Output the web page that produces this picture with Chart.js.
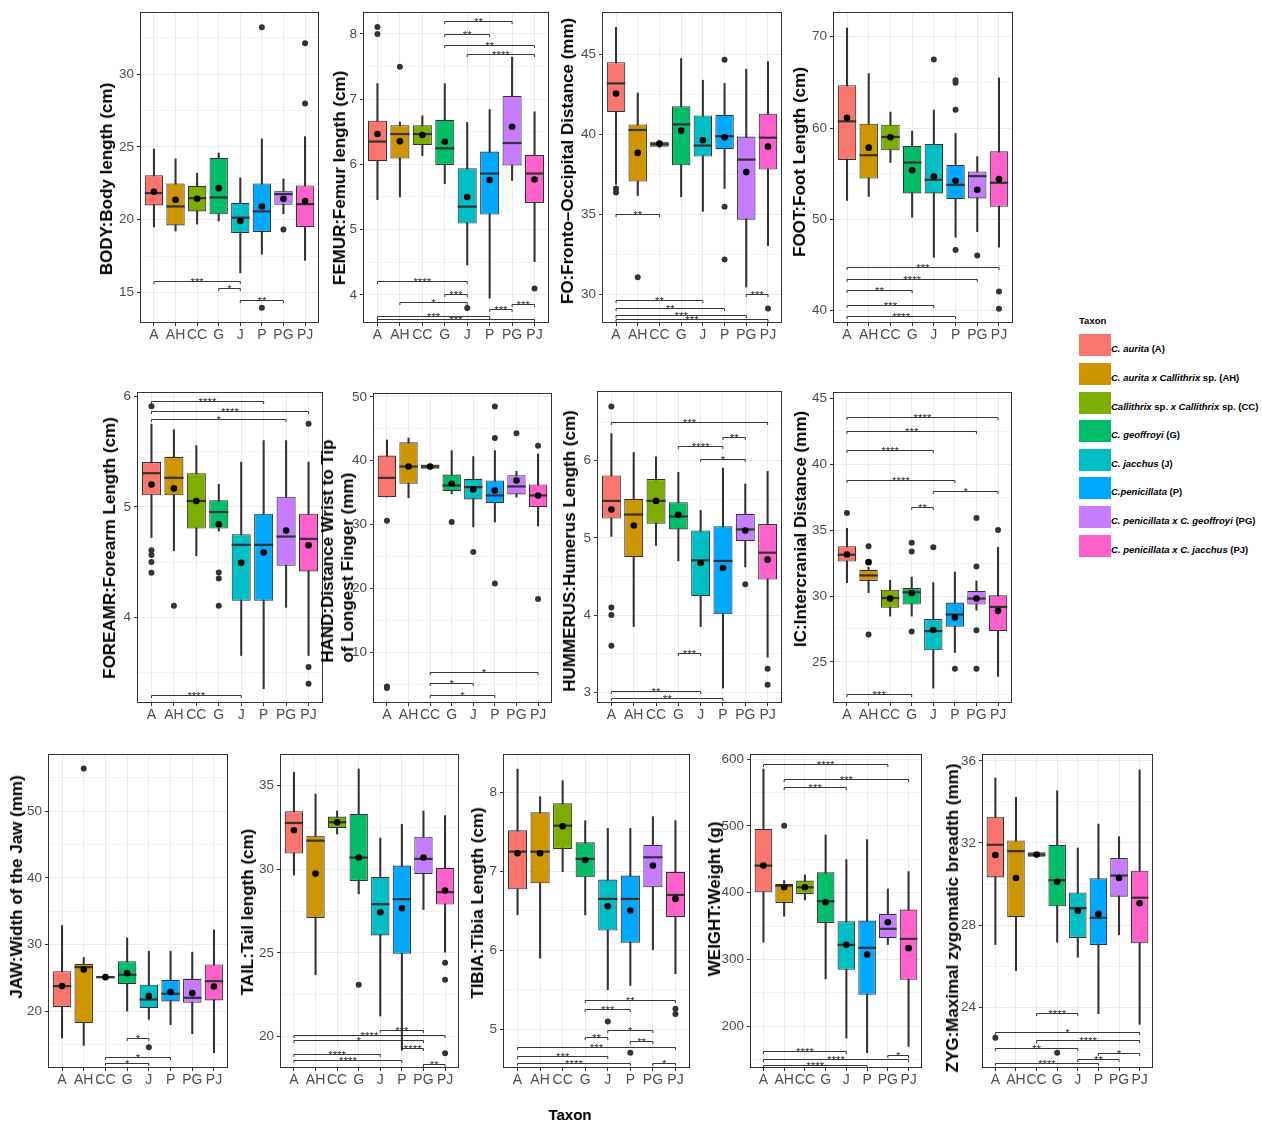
<!DOCTYPE html>
<html><head><meta charset="utf-8">
<script src="https://cdn.jsdelivr.net/npm/chart.js@4.4.1/dist/chart.umd.min.js"></script>
<style>
body{margin:0;background:#fff;width:1262px;height:1123px;position:relative;overflow:hidden;font-family:'Liberation Sans',Arial,Helvetica,sans-serif}
canvas{position:absolute}
.yt{position:absolute;transform:translate(-50%,-50%) rotate(-90deg);font-weight:bold;font-size:17px;white-space:nowrap;color:#000;line-height:20px;text-align:left}
.sw{position:absolute;width:32px;height:22px}
.lb{position:absolute;font-size:9.5px;font-weight:bold;color:#000;white-space:nowrap;transform:translateY(-50%)}
</style></head><body>
<script>
const categories = ['A','AH','CC','G','J','P','PG','PJ'];
const taxonColors = ['#F8766D','#CD9600','#7CAE00','#00BE67','#00BFC4','#00A9FF','#C77CFF','#FF61CC'];
const legendLabels = ['<i>C. aurita</i> (A)','<i>C. aurita x Callithrix</i> sp. (AH)','<i>Callithrix</i> sp. <i>x Callithrix</i> sp. (CC)','<i>C. geoffroyi</i> (G)','<i>C. jacchus</i> (J)','<i>C.penicillata</i> (P)','<i>C. penicillata x C. geoffroyi</i> (PG)','<i>C. penicillata x C. jacchus</i> (PJ)'];

// stats per category: [whisker low, Q1, median, Q3, whisker high]
const bodyStats = [[19.5,20.98,21.83,23.06,24.86],[19.22,19.61,20.91,22.49,24.18],[19.7,20.57,21.48,22.33,23.2],[19.91,20.37,21.53,24.25,24.59],[16.35,19.09,20.14,21.16,22.88],[17.63,19.16,20.57,22.49,25.55],[20.41,21.03,21.76,21.99,22.81],[17.21,19.5,21.07,22.35,25.71]];
const bodyMeans = [21.92,21.37,21.44,22.17,19.91,20.91,21.44,21.28];
const bodyOutliers = [[5,33.22],[5,13.95],[6,19.32],[7,32.12],[7,27.99]];
const bodySignif = [[0,4,15.8,'***'],[3,4,15.32,'*'],[4,6,14.47,'**']];
const bodyTicks = [15,20,25,30];
const bodyRange = [12.97,34.2];

const femurStats = [[5.46,6.05,6.35,6.67,7.24],[5.5,6.09,6.465,6.6,6.65],[6.135,6.297,6.465,6.602,6.745],[5.703,5.992,6.246,6.684,7.238],[4.457,5.093,5.352,5.942,6.643],[3.949,5.23,5.86,6.196,6.841],[5.753,5.982,6.328,7.05,7.644],[4.508,5.408,5.86,6.145,6.806]];
const femurMeans = [6.465,6.353,6.45,6.348,5.5,5.759,6.577,5.769];
const femurOutliers = [[0,8.107],[0,8.0],[1,7.497],[4,3.797],[7,4.097]];
const femurSignif = [[3,6,8.203,'**'],[3,5,8.0,'**'],[3,7,7.837,'**'],[4,7,7.7,'****'],[0,4,4.213,'****'],[3,4,4.01,'***'],[1,4,3.883,'*'],[5,6,3.787,'***'],[6,7,3.858,'***'],[0,5,3.68,'***'],[0,7,3.629,'***']];
const femurTicks = [4,5,6,7,8];
const femurRange = [3.583,8.32];

const foStats = [[36.9,41.41,43.2,44.52,46.7],[36.2,37.07,40.29,40.64,42.6],[39.2,39.25,39.4,39.56,39.6],[36.12,38.09,40.64,41.78,44.75],[35.21,38.63,39.32,41.2,43.4],[36.64,39.09,39.9,41.24,43.2],[30.48,34.69,38.44,39.88,44.09],[33.07,37.82,39.81,41.31,44.56]];
const foMeans = [42.57,38.86,39.44,40.25,39.65,39.83,37.66,39.25];
const foOutliers = [[0,36.64],[0,36.39],[1,31.1],[5,44.67],[5,35.5],[5,32.2],[7,29.15]];
const foSignif = [[0,2,35.04,'**'],[6,7,30.02,'***'],[0,4,29.67,'**'],[0,5,29.19,'**'],[0,6,28.76,'***'],[0,7,28.49,'***']];
const foTicks = [30,35,40,45];
const foRange = [28.3,47.59];

const footStats = [[52.07,56.51,60.73,64.69,70.95],[52.51,54.47,57.02,60.47,65.96],[56.22,57.56,59.02,60.36,61.75],[50.22,52.84,56.22,58.04,59.67],[45.85,52.84,54.33,58.25,61.96],[48.04,52.22,53.78,55.96,59.42],[48.65,52.29,54.73,55.24,56.87],[46.95,51.38,54.0,57.45,65.49]];
const footMeans = [61.13,57.85,58.98,55.38,54.69,54.22,53.24,54.4];
const footOutliers = [[4,67.49],[5,65.24],[5,64.95],[5,62.0],[5,46.65],[6,46.04],[7,42.11],[7,40.22]];
const footSignif = [[0,7,44.76,'***'],[0,6,43.49,'****'],[0,3,42.22,'**'],[0,4,40.58,'***'],[0,5,39.42,'****']];
const footTicks = [40,50,60,70];
const footRange = [38.76,72.58];

const foreStats = [[4.722,5.104,5.305,5.405,5.75],[4.602,5.104,5.263,5.453,5.699],[4.556,4.803,5.053,5.305,5.555],[4.78,4.803,4.953,5.059,5.203],[3.654,4.15,4.656,4.752,5.405],[3.353,4.15,4.656,4.938,5.6],[4.09,4.466,4.731,5.092,5.6],[3.654,4.415,4.71,4.938,5.405]];
const foreMeans = [5.203,5.167,5.053,4.842,4.493,4.586,4.785,4.653];
const foreOutliers = [[0,5.91],[0,4.608],[0,4.565],[0,4.5],[0,4.403],[1,4.105],[3,4.406],[3,4.352],[3,4.105],[7,5.753],[7,3.549],[7,3.398]];
const foreSignif = [[0,5,5.961,'****'],[0,7,5.865,'****'],[0,6,5.798,'*'],[0,4,3.293,'****']];
const foreTicks = [4,5,6];
const foreRange = [3.233,6.03];

const handStats = [[34.31,34.31,37.32,40.81,43.25],[34.21,36.39,39.09,42.88,43.56],[38.73,38.73,39.09,39.4,39.4],[34.83,35.25,36.13,37.84,41.58],[29.64,33.95,35.87,37.17,40.65],[30.42,33.38,34.57,36.91,41.58],[34.31,34.73,35.97,37.74,38.36],[29.79,32.75,34.57,36.29,41.06]];
const handMeans = [null,39.09,39.09,36.39,35.51,35.35,36.91,34.57];
const handOutliers = [[0,30.62],[0,4.7],[0,4.44],[3,30.42],[4,25.74],[5,48.49],[5,43.56],[5,20.81],[6,44.29],[7,42.36],[7,18.36]];
const handSignif = [[2,7,6.94,'*'],[2,4,5.22,'*'],[2,5,3.4,'*']];
const handTicks = [10,20,30,40,50];
const handRange = [2.26,50.42];

const humStats = [[5.02,5.252,5.48,5.81,6.352],[3.851,4.753,5.303,5.505,6.107],[4.904,5.183,5.48,5.763,6.051],[4.702,5.11,5.278,5.462,5.849],[3.851,4.246,4.71,5.097,5.355],[3.056,4.01,4.702,5.153,5.905],[4.624,4.96,5.11,5.312,5.699],[3.456,4.461,4.809,5.179,5.862]];
const humMeans = [5.368,5.162,5.48,5.299,4.676,4.611,5.097,4.719];
const humOutliers = [[0,6.704],[0,4.1],[0,4.001],[0,3.602],[6,4.401],[7,3.305],[7,3.099]];
const humSignif = [[0,7,6.507,'***'],[5,6,6.313,'**'],[3,5,6.193,'****'],[4,6,6.021,'*'],[3,4,3.507,'***'],[0,4,3.021,'**'],[0,5,2.927,'**']];
const humTicks = [3,4,5,6];
const humRange = [2.875,6.889];

const icStats = [[31.02,32.63,33.14,33.79,35.15],[30.26,31.15,31.57,32.0,32.2],[28.48,29.11,29.86,30.49,31.2],[28.48,29.36,30.29,30.62,31.45],[23.01,25.88,27.34,28.25,31.02],[25.71,27.67,28.6,29.51,31.83],[28.93,29.36,29.81,30.39,31.15],[23.89,27.34,29.18,30.06,33.72]];
const icMeans = [33.16,32.58,29.81,30.24,27.42,28.38,29.81,28.88];
const icOutliers = [[0,36.31],[1,33.79],[1,27.09],[3,34.05],[3,33.39],[3,27.3],[4,33.72],[5,24.47],[6,35.93],[6,32.25],[6,27.4],[6,24.47],[7,35.03]];
const icSignif = [[0,7,43.59,'****'],[0,6,42.58,'***'],[0,4,41.1,'****'],[0,5,38.83,'****'],[4,7,38.0,'*'],[3,4,36.74,'**'],[0,3,22.56,'***']];
const icTicks = [25,30,35,40,45];
const icRange = [21.95,45.43];

const jawStats = [[16.01,20.65,23.79,26.03,32.86],[14.92,18.26,26.63,27.13,28.07],[24.98,24.98,25.13,25.28,25.28],[20.05,24.09,25.48,27.52,31.01],[18.8,20.5,21.79,23.99,29.02],[18.01,21.49,22.64,24.73,29.02],[16.66,21.3,22.04,24.88,28.87],[13.82,21.64,24.53,27.03,32.21]];
const jawMeans = [23.79,26.28,25.13,25.73,22.29,22.89,22.74,23.74];
const jawOutliers = [[1,56.37],[4,14.62]];
const jawSignif = [[3,4,16.01,'*'],[2,5,13.17,'*'],[2,4,12.28,'*']];
const jawTicks = [20,30,40,50];
const jawRange = [11.68,58.37];

const tailStats = [[29.66,30.94,32.77,33.47,35.8],[23.69,27.09,31.71,32.01,34.5],[32.11,32.47,32.81,33.15,33.49],[28.53,29.3,30.7,33.31,36.0],[21.22,26.04,27.91,29.54,31.87],[19.2,24.94,28.21,30.22,32.69],[27.59,29.72,30.62,31.95,33.49],[25.04,27.89,28.63,30.08,33.21]];
const tailMeans = [32.33,29.74,32.81,30.7,27.43,27.67,30.7,28.73];
const tailOutliers = [[3,23.09],[7,24.4],[7,23.39],[7,19.0]];
const tailSignif = [[4,6,20.4,'***'],[0,7,20.06,'****'],[0,6,19.76,'*'],[5,6,19.3,'****'],[0,4,18.94,'****'],[0,5,18.57,'****'],[6,7,18.37,'**']];
const tailTicks = [20,25,30,35];
const tailRange = [18.17,36.83];

const tibiaStats = [[6.45,6.774,7.25,7.52,8.295],[5.902,6.85,7.25,7.748,7.946],[6.997,7.284,7.579,7.861,8.148],[6.45,6.926,7.158,7.368,7.642],[5.501,6.252,6.652,6.896,7.545],[5.556,6.096,6.652,6.947,7.545],[6.007,6.799,7.179,7.335,7.693],[5.704,6.42,6.702,6.994,7.642]];
const tibiaMeans = [7.229,7.229,7.571,7.145,6.559,6.504,7.073,6.652];
const tibiaOutliers = [[4,5.101],[5,4.705],[7,5.261],[7,5.194]];
const tibiaSignif = [[3,7,5.367,'**'],[3,5,5.253,'***'],[4,6,4.996,'*'],[3,4,4.903,'**'],[5,6,4.848,'**'],[0,7,4.772,'***'],[0,4,4.659,'***'],[0,5,4.574,'****'],[6,7,4.574,'*']];
const tibiaTicks = [5,6,7,8];
const tibiaRange = [4.524,8.472];

const weightStats = [[326,400.7,440.6,495.4,585.1],[364.9,384.8,410.7,413.2,418.2],[389.3,398.3,408.2,418.2,426.6],[271.2,354.9,387.3,430.6,486.4],[182.6,284.7,322,357.4,449.6],[160.6,247.3,317.6,358.4,479.5],[322.5,332,346,368.4,405.7],[170.1,269.7,331,374.8,431.6]];
const weightMeans = [440.6,408.2,408.2,385.8,322,307.6,355.9,317.1];
const weightOutliers = [[1,500.4]];
const weightSignif = [[0,6,592.5,'****'],[1,7,570.1,'***'],[1,4,557.7,'***'],[0,4,162.6,'****'],[6,7,156.7,'*'],[0,7,150.7,'****'],[0,5,141.7,'****']];
const weightTicks = [200,300,400,500,600];
const weightRange = [139.2,606];

const zygStats = [[27.05,30.32,31.91,33.28,35.16],[25.78,28.38,31.6,32.12,34.22],[31.33,31.33,31.43,31.54,31.54],[27.16,28.91,30.18,31.9,34.54],[26.43,27.37,28.82,29.59,31.75],[23.68,27.03,28.35,30.28,32.92],[27.52,29.38,30.41,31.26,32.3],[23.16,27.11,29.33,30.65,35.56]];
const zygMeans = [31.41,30.29,31.43,30.11,28.7,28.54,30.29,29.06];
const zygOutliers = [[0,22.51],[3,21.78]];
const zygSignif = [[2,4,23.72,'****'],[0,7,22.78,'*'],[2,7,22.41,'****'],[0,4,22.01,'**'],[5,7,21.78,'*'],[4,6,21.45,'**'],[0,5,21.28,'****']];
const zygTicks = [24,28,32,36];
const zygRange = [21.08,36.28];

const FONT = "'Liberation Sans', Arial, Helvetica, sans-serif";
const YW = 44, XH = 26, PT = 10, PR = 6;

const panels = [
  {title:['BODY:Body length (cm)'], stats:bodyStats, means:bodyMeans, outliers:bodyOutliers, signif:bodySignif, ticks:bodyTicks, range:bodyRange, area:[141,12,318,322], tpos:[107,179]},
  {title:['FEMUR:Femur length (cm)'], stats:femurStats, means:femurMeans, outliers:femurOutliers, signif:femurSignif, ticks:femurTicks, range:femurRange, area:[364,12,548,322], tpos:[340,178]},
  {title:['FO:Fronto\u2013Occipital Distance (mm)'], stats:foStats, means:foMeans, outliers:foOutliers, signif:foSignif, ticks:foTicks, range:foRange, area:[603,12,781,322], tpos:[568,161]},
  {title:['FOOT:Foot Length (cm)'], stats:footStats, means:footMeans, outliers:footOutliers, signif:footSignif, ticks:footTicks, range:footRange, area:[834,12,1012,322], tpos:[800,162]},
  {title:['FOREAMR:Forearm Length (cm)'], stats:foreStats, means:foreMeans, outliers:foreOutliers, signif:foreSignif, ticks:foreTicks, range:foreRange, area:[138,392,322,702], tpos:[110,548]},
  {title:['HAND:Distance Wrist to Tip','of Longest Finger (mm)'], stats:handStats, means:handMeans, outliers:handOutliers, signif:handSignif, ticks:handTicks, range:handRange, area:[374,393,551,702], tpos:[338,551]},
  {title:['HUMMERUS:Humerus Length (cm)'], stats:humStats, means:humMeans, outliers:humOutliers, signif:humSignif, ticks:humTicks, range:humRange, area:[598,391,781,702], tpos:[570,551]},
  {title:['IC:Intercranial Distance (mm)'], stats:icStats, means:icMeans, outliers:icOutliers, signif:icSignif, ticks:icTicks, range:icRange, area:[834,392,1011,702], tpos:[801,529]},
  {title:['JAW:Width of the Jaw (mm)'], stats:jawStats, means:jawMeans, outliers:jawOutliers, signif:jawSignif, ticks:jawTicks, range:jawRange, area:[49,754,227,1067], tpos:[17,887]},
  {title:['TAIL:Tail length (cm)'], stats:tailStats, means:tailMeans, outliers:tailOutliers, signif:tailSignif, ticks:tailTicks, range:tailRange, area:[281,754,458,1067], tpos:[248,912]},
  {title:['TIBIA:Tibia Length (cm)'], stats:tibiaStats, means:tibiaMeans, outliers:tibiaOutliers, signif:tibiaSignif, ticks:tibiaTicks, range:tibiaRange, area:[504,754,689,1067], tpos:[478,903]},
  {title:['WEIGHT:Weight (g)'], stats:weightStats, means:weightMeans, outliers:weightOutliers, signif:weightSignif, ticks:weightTicks, range:weightRange, area:[751,754,921,1067], tpos:[715,899]},
  {title:['ZYG:Maximal zygomatic breadth (mm)'], stats:zygStats, means:zygMeans, outliers:zygOutliers, signif:zygSignif, ticks:zygTicks, range:zygRange, area:[983,754,1152,1067], tpos:[953,918]}
];

function makePanel(p){
  const [l,t,r,b] = p.area;
  const W = r-l+YW+PR, H = b-t+PT+XH;
  const cv = document.createElement('canvas');
  cv.width = W; cv.height = H;
  cv.style.left = (l-YW)+'px'; cv.style.top = (t-PT)+'px';
  cv.style.width = W+'px'; cv.style.height = H+'px';
  document.body.appendChild(cv);

  const isMajor = v => p.ticks.some(m => Math.abs(m-v) < 1e-6);
  const half = (p.ticks[1]-p.ticks[0])/2;
  const yTickVals = [];
  for (let k = Math.ceil(p.range[0]/half - 1e-9); k*half <= p.range[1] + 1e-9; k++) yTickVals.push(Math.round(k*half*1e6)/1e6);
  const unitPx = c => { const xs = c.chart.scales.x; return Math.abs(xs.getPixelForValue(1)-xs.getPixelForValue(0)); };

  const framePlugin = {
    id:'frame',
    beforeDatasetsDraw(chart){
      const {ctx, chartArea:a} = chart;
      ctx.save(); ctx.strokeStyle = '#333333'; ctx.lineWidth = 1;
      ctx.strokeRect(Math.round(a.left)-0.5, Math.round(a.top)-0.5, Math.round(a.right-a.left)+1, Math.round(a.bottom-a.top)+1);
      ctx.restore();
    }
  };
  const signifPlugin = {
    id:'signif',
    afterDatasetsDraw(chart){
      const xs = chart.scales.x, ys = chart.scales.y, ctx = chart.ctx;
      ctx.save();
      ctx.strokeStyle = '#222'; ctx.lineWidth = 0.9; ctx.fillStyle = '#333';
      ctx.font = '11.5px ' + FONT; ctx.textAlign = 'center'; ctx.textBaseline = 'alphabetic';
      for (const [a,bb,y,label] of p.signif){
        const x1 = xs.getPixelForValue(a), x2 = xs.getPixelForValue(bb);
        const py = Math.round(ys.getPixelForValue(y)) + 0.5;
        ctx.beginPath(); ctx.moveTo(x1, py+2.5); ctx.lineTo(x1, py); ctx.lineTo(x2, py); ctx.lineTo(x2, py+2.5); ctx.stroke();
        ctx.fillText(label, (x1+x2)/2, py+4.5);
      }
      ctx.restore();
    }
  };

  new Chart(cv, {
    type:'bar',
    data:{datasets:[
      {type:'bar', data:p.stats.map((s,i)=>({x:i, y:[s[0],s[4]]})), backgroundColor:'#333333', borderWidth:0, barThickness:1.4, grouped:false, order:5},
      {type:'bar', data:p.stats.map((s,i)=>({x:i, y:[s[1],s[3]]})), backgroundColor:taxonColors, borderColor:'#333333', borderWidth:1.1, borderSkipped:false, grouped:false, barPercentage:0.85, categoryPercentage:1, order:4},
      {type:'line', data:p.stats.map((s,i)=>({x:i, y:s[2]})), showLine:false, pointStyle:'line', pointRadius:c=>unitPx(c)*0.85/2, pointBorderWidth:2.2, pointBorderColor:'#333333', order:3},
      {type:'line', data:p.outliers.map(o=>({x:o[0], y:o[1]})), showLine:false, pointRadius:3, pointBackgroundColor:'#333333', pointBorderWidth:0, order:2},
      {type:'line', data:p.means.map((m,i)=>m==null?null:{x:i, y:m}).filter(Boolean), showLine:false, pointRadius:3.3, pointBackgroundColor:'#000000', pointBorderWidth:0, order:1}
    ]},
    options:{
      responsive:false, animation:false, events:[], devicePixelRatio:1,
      layout:{padding:{top:PT, right:PR, left:0, bottom:0}},
      plugins:{legend:{display:false}, tooltip:{enabled:false}},
      scales:{
        x:{type:'linear', min:-0.6, max:7.6, offset:false,
          afterBuildTicks:s=>{ s.ticks = categories.map((c,i)=>({value:i})); },
          afterFit:s=>{ s.height = XH; },
          ticks:{callback:v=>categories[v] ?? '', autoSkip:false, maxRotation:0, minRotation:0, color:'#4D4D4D', font:{family:FONT, size:14}, padding:1},
          grid:{offset:false, color:'#EBEBEB', lineWidth:1, tickLength:4, tickColor:'#333333'},
          border:{display:false}},
        y:{type:'linear', min:p.range[0], max:p.range[1],
          afterBuildTicks:s=>{ s.ticks = yTickVals.map(v=>({value:v})); },
          afterFit:s=>{ s.width = YW; },
          ticks:{callback:v=>isMajor(v)?String(v):'', autoSkip:false, color:'#4D4D4D', font:{family:FONT, size:13.5}, padding:3},
          grid:{color:'#EBEBEB', lineWidth:c=>(c.tick && isMajor(c.tick.value))?1:0.6, tickLength:4, tickColor:c=>(c.tick && isMajor(c.tick.value))?'#333333':'rgba(0,0,0,0)'},
          border:{display:false}}
      }
    },
    plugins:[framePlugin, signifPlugin]
  });

  const tt = document.createElement('div');
  tt.className = 'yt';
  tt.style.left = p.tpos[0]+'px'; tt.style.top = p.tpos[1]+'px';
  tt.innerHTML = p.title.join('<br>');
  document.body.appendChild(tt);
}

panels.forEach(makePanel);

// legend
const lt = document.createElement('div');
lt.textContent = 'Taxon';
lt.style.cssText = 'position:absolute;left:1079px;top:315px;font-size:9.5px;font-weight:bold;color:#000';
document.body.appendChild(lt);
legendLabels.forEach((html,k)=>{
  const y = 334.3 + k*28.6;
  const sw = document.createElement('div');
  sw.className = 'sw'; sw.style.left = '1079px'; sw.style.top = y+'px'; sw.style.background = taxonColors[k];
  document.body.appendChild(sw);
  const lb = document.createElement('div');
  lb.className = 'lb'; lb.style.left = '1111px'; lb.style.top = (y+14)+'px'; lb.innerHTML = html;
  document.body.appendChild(lb);
});
const xt = document.createElement('div');
xt.textContent = 'Taxon';
xt.style.cssText = 'position:absolute;left:570px;top:1114px;transform:translate(-50%,-50%);font-size:15px;font-weight:bold;color:#000';
document.body.appendChild(xt);
</script>
</body></html>
